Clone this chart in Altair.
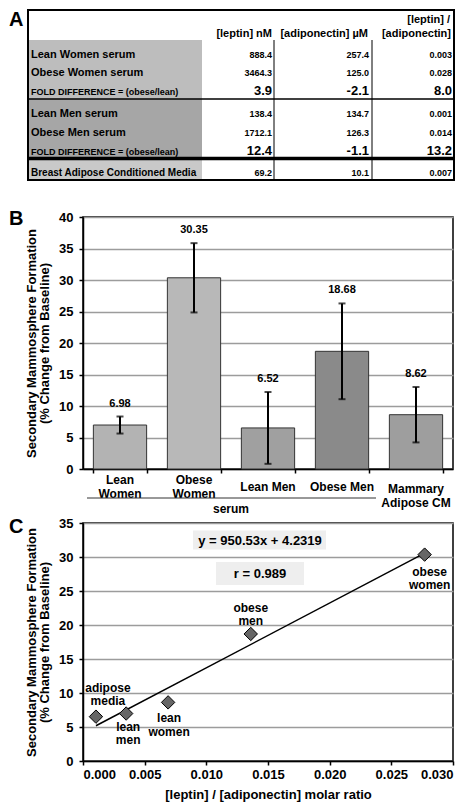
import altair as alt
import pandas as pd

FONT = "Liberation Sans"

# ---------------- data ----------------
row_labels = ["Lean Women serum", "Obese Women serum", "FOLD DIFFERENCE = (obese/lean)",
              "Lean Men serum", "Obese Men serum", "FOLD DIFFERENCE = (obese/lean)",
              "Breast Adipose Conditioned Media"]
leptin_nM = ["888.4", "3464.3", "3.9", "138.4", "1712.1", "12.4", "69.2"]
adiponectin_uM = ["257.4", "125.0", "-2.1", "134.7", "126.3", "-1.1", "10.1"]
leptin_adipo_ratio = ["0.003", "0.028", "8.0", "0.001", "0.014", "13.2", "0.007"]
header_lines = ["[leptin] nM", "[adiponectin] µM", "[leptin] /", "[adiponectin]"]

bar_categories = ["Lean Women", "Obese Women", "Lean Men", "Obese Men", "Mammary Adipose CM"]
bar_tick_labels = [["Lean", "Women"], ["Obese", "Women"], ["Lean Men"], ["Obese Men"],
                   ["Mammary", "Adipose CM"]]
bar_means = [6.98, 30.35, 6.52, 18.68, 8.62]
bar_errors = [1.35, 5.5, 5.7, 7.6, 4.4]
bar_group_label = "serum"
bar_y_ticks = [0, 5, 10, 15, 20, 25, 30, 35, 40]

scatter_names = ["adipose media", "lean men", "lean women", "obese men", "obese women"]
scatter_labels = [["adipose", "media"], ["lean", "men"], ["lean", "women"], ["obese", "men"],
                  ["obese", "women"]]
scatter_x = [0.00105, 0.0035, 0.0069, 0.0136, 0.0277]
scatter_y = [6.52, 6.98, 8.62, 18.68, 30.35]
scatter_x_ticks = [0, 0.005, 0.01, 0.015, 0.02, 0.025, 0.03]
scatter_y_ticks = [0, 5, 10, 15, 20, 25, 30, 35]
equation_text = "y = 950.53x + 4.2319"
r_text = "r = 0.989"
x_title_c = "[leptin] / [adiponectin] molar ratio"
y_title = ["Secondary Mammosphere Formation", "(% Change from Baseline)"]

# ---------------- layout / style ----------------
OX = 82          # page x of every plot origin
A_TOP = 8        # page y of table origin
LETTER_X = -74
PW = 370

# table layout (page coordinates)
T_LEFT, T_RIGHT, T_TOP, T_BOTTOM = 27, 453, 8, 178
SHADE_RIGHT = 201
shade_blocks = [(38, 97, "#bdbdbd"), (97, 156, "#a6a6a6"), (157, 178, "#c9c9c9")]
h_lines = [(97, 1.5), (156.5, 3.5)]
v_lines = [273, 371]
V_TOP = 38
LABEL_X = 30
col_right = [271, 368, 451]
row_base = [55.5, 74, 92.5, 115, 133.5, 152.5, 174]
label_sizes = [11, 11, 9, 11, 11, 9, 10]
value_sizes = [9, 9, 13, 9, 9, 13, 9]
header_pos = [(271, 35), (367, 35), (449, 21), (450, 35)]

bar_colors = ["#b3b3b3", "#b8b8b8", "#a0a0a0", "#8a8a8a", "#9e9e9e"]
bar_label_y = {"Lean Women": 263, "Obese Women": 263, "Lean Men": 270, "Obese Men": 270,
               "Mammary Adipose CM": 272}
label_offsets = {"adipose media": (12, -29), "lean men": (2, 13), "lean women": (1, 16),
                 "obese men": (0, -26), "obese women": (5, 17)}

# ================= Panel A : table =================
lab_df = pd.DataFrame([dict(x=LABEL_X - OX, y=b - A_TOP, t=t, s=s)
                       for t, b, s in zip(row_labels, row_base, label_sizes)])
num_records = []
for j, col in enumerate([leptin_nM, adiponectin_uM, leptin_adipo_ratio]):
    for i, v in enumerate(col):
        num_records.append(dict(x=col_right[j] - OX, y=row_base[i] - A_TOP, t=v, s=value_sizes[i]))
for t, (hx, hy) in zip(header_lines, header_pos):
    num_records.append(dict(x=hx - OX, y=hy - A_TOP, t=t, s=11))
num_df = pd.DataFrame(num_records)

shade_df = pd.DataFrame([dict(x=T_LEFT - OX, x2=SHADE_RIGHT - OX, y=a - A_TOP, y2=b - A_TOP, c=c)
                         for a, b, c in shade_blocks])
rule_records = [dict(x=T_LEFT - OX, x2=T_RIGHT - OX, y=yy - A_TOP, y2=yy - A_TOP, w=w) for yy, w in h_lines]
rule_records += [dict(x=xx - OX, x2=xx - OX, y=V_TOP - A_TOP, y2=T_BOTTOM - A_TOP, w=1) for xx in v_lines]
rule_df = pd.DataFrame(rule_records)
border_df = pd.DataFrame([dict(x=T_LEFT - OX, x2=T_RIGHT - OX, y=T_TOP - A_TOP, y2=T_BOTTOM - A_TOP)])

shades = alt.Chart(shade_df).mark_rect().encode(
    x=alt.X("x:Q", scale=None, axis=None), x2="x2:Q",
    y=alt.Y("y:Q", scale=None, axis=None), y2="y2:Q",
    color=alt.Color("c:N", scale=None))
rules = alt.Chart(rule_df).mark_rule(color="black").encode(
    x=alt.X("x:Q", scale=None, axis=None), x2="x2:Q",
    y=alt.Y("y:Q", scale=None, axis=None), y2="y2:Q",
    strokeWidth=alt.StrokeWidth("w:Q", scale=None))
border = alt.Chart(border_df).mark_rect(fill="transparent", stroke="black", strokeWidth=2).encode(
    x=alt.X("x:Q", scale=None, axis=None), x2="x2:Q",
    y=alt.Y("y:Q", scale=None, axis=None), y2="y2:Q")
labels_t = alt.Chart(lab_df).mark_text(align="left", baseline="alphabetic", fontWeight="bold").encode(
    x=alt.X("x:Q", scale=None, axis=None), y=alt.Y("y:Q", scale=None, axis=None),
    text="t:N", size=alt.Size("s:Q", scale=None))
nums_t = alt.Chart(num_df).mark_text(align="right", baseline="alphabetic", fontWeight="bold").encode(
    x=alt.X("x:Q", scale=None, axis=None), y=alt.Y("y:Q", scale=None, axis=None),
    text="t:N", size=alt.Size("s:Q", scale=None))
letter_a = alt.Chart(pd.DataFrame({"t": ["A"]})).mark_text(
    align="left", baseline="alphabetic", fontSize=20, fontWeight="bold").encode(
    x=alt.value(LETTER_X), y=alt.value(16), text="t:N")

panel_a = alt.layer(shades, rules, border, labels_t, nums_t, letter_a).properties(
    width=PW + 1, height=T_BOTTOM - T_TOP, view=alt.ViewBackground(stroke="transparent"))

# ================= Panel B : bars =================
bar_df = pd.DataFrame({"cat": bar_categories, "mean": bar_means, "err": bar_errors,
                       "lab": bar_tick_labels})
bar_base = alt.Chart(bar_df).transform_calculate(
    lo="datum.mean - datum.err", hi="datum.mean + datum.err",
    vtxt="format(datum.mean, '.2f')")
xB = alt.X("cat:N", sort=bar_categories,
           scale=alt.Scale(paddingInner=0.28, paddingOuter=0.14),
           axis=alt.Axis(labels=False, title=None, tickBand="extent", grid=False))
yaxis_b = alt.Axis(values=bar_y_ticks, tickCount=50, format="d", title=y_title, titleX=-45,
                   titleLineHeight=13.5, labelOverlap=False)
yscale_b = alt.Scale(domain=[0, 40], nice=False)


def yb(field):
    return alt.Y(field, type="quantitative", scale=yscale_b, axis=yaxis_b)


bars = bar_base.mark_bar(stroke="#333333", strokeWidth=1).encode(
    x=xB, y=yb("mean"),
    color=alt.Color("cat:N", scale=alt.Scale(domain=bar_categories, range=bar_colors), legend=None))
errs = bar_base.mark_rule(color="black", strokeWidth=2).encode(x=xB, y=yb("lo"), y2="hi:Q")
cap_hi = bar_base.mark_tick(color="black", thickness=2, size=7).encode(x=xB, y=yb("hi"))
cap_lo = bar_base.mark_tick(color="black", thickness=2, size=7).encode(x=xB, y=yb("lo"))
vlabels = bar_base.mark_text(dy=-13, fontSize=11, fontWeight="bold").encode(
    x=xB, y=yb("hi"), text="vtxt:N")
xlabs = []
for cat in bar_categories:
    xlabs.append(bar_base.transform_filter(alt.datum.cat == cat).mark_text(
        fontSize=12, fontWeight="bold", lineHeight=13.5, baseline="middle").encode(
        x=xB, y=alt.value(bar_label_y[cat]), text="lab:N"))
group_rule = alt.Chart(pd.DataFrame({"a": [0]})).mark_rule(color="#333333", strokeWidth=1).encode(
    x=alt.value(4), x2=alt.value(293), y=alt.value(281))
group_text = alt.Chart(pd.DataFrame({"t": [bar_group_label]})).mark_text(
    fontSize=12, fontWeight="bold", baseline="middle").encode(
    x=alt.value(148), y=alt.value(292), text="t:N")
letter_b = alt.Chart(pd.DataFrame({"t": ["B"]})).mark_text(
    align="left", baseline="alphabetic", fontSize=20, fontWeight="bold").encode(
    x=alt.value(LETTER_X), y=alt.value(8), text="t:N")

panel_b = alt.layer(bars, errs, cap_hi, cap_lo, vlabels, *xlabs,
                    group_rule, group_text, letter_b).properties(
    width=PW, height=252, view=alt.ViewBackground(stroke="black", strokeWidth=1.5))

# ================= Panel C : scatter =================
sc_df = pd.DataFrame({"name": scatter_names, "lab": scatter_labels, "x": scatter_x, "y": scatter_y})
xC = alt.X("x:Q", scale=alt.Scale(domain=[0, 0.03], nice=False),
           axis=alt.Axis(values=scatter_x_ticks, tickCount=50, format=".3f",
                         title=x_title_c, grid=False, labelPadding=3, titlePadding=7,
                         labelOverlap=False))
yC = alt.Y("y:Q", scale=alt.Scale(domain=[0, 35], nice=False),
           axis=alt.Axis(values=scatter_y_ticks, tickCount=50, format="d", title=y_title, titleX=-45,
                         titleLineHeight=13.5, labelOverlap=False))
trend = alt.Chart(sc_df).transform_regression("x", "y").mark_line(
    color="black", strokeWidth=1.5).encode(x=xC, y=yC)
points = alt.Chart(sc_df).mark_point(shape="diamond", filled=True, size=180, fill="#666666",
                                     stroke="black", strokeWidth=1, opacity=1).encode(x=xC, y=yC)
pt_labels = []
for nm in scatter_names:
    dx, dy = label_offsets[nm]
    pt_labels.append(alt.Chart(sc_df).transform_filter(alt.datum.name == nm).mark_text(
        dx=dx, dy=dy, fontSize=12, fontWeight="bold", lineHeight=13.5, baseline="middle").encode(
        x=xC, y=yC, text="lab:N"))
box1 = alt.Chart(pd.DataFrame({"a": [0]})).mark_rect(fill="#eeeeee").encode(
    x=alt.value(110), x2=alt.value(243), y=alt.value(7.5), y2=alt.value(26.5))
box2 = alt.Chart(pd.DataFrame({"a": [0]})).mark_rect(fill="#eeeeee").encode(
    x=alt.value(133), x2=alt.value(221), y=alt.value(39), y2=alt.value(62))
eq = alt.Chart(pd.DataFrame({"t": [equation_text]})).mark_text(
    fontSize=13, fontWeight="bold", baseline="middle").encode(
    x=alt.value(177), y=alt.value(17.5), text="t:N")
rr = alt.Chart(pd.DataFrame({"t": [r_text]})).mark_text(
    fontSize=13, fontWeight="bold", baseline="middle").encode(
    x=alt.value(177), y=alt.value(51), text="t:N")
letter_c = alt.Chart(pd.DataFrame({"t": ["C"]})).mark_text(
    align="left", baseline="alphabetic", fontSize=20, fontWeight="bold").encode(
    x=alt.value(LETTER_X), y=alt.value(10), text="t:N")

panel_c = alt.layer(trend, box1, box2, eq, rr, points, *pt_labels, letter_c).properties(
    width=PW, height=238, view=alt.ViewBackground(stroke="black", strokeWidth=1.5))

chart = alt.vconcat(alt.vconcat(panel_a, panel_b, spacing=26), panel_c, spacing=0).properties(
    padding=0
).configure(font=FONT).configure_axis(
    labelFont=FONT, titleFont=FONT, labelFontWeight="bold", titleFontWeight="bold",
    labelColor="black", titleColor="black", labelFontSize=13, titleFontSize=13,
    domainColor="black", tickColor="black", domainWidth=1.5, tickWidth=1.5, tickSize=4,
    gridColor="#9c9c9c", gridWidth=1.5, labelPadding=6
).configure_text(font=FONT, color="black")

chart.save("out.html", embed_options={"renderer": "svg", "actions": False})
